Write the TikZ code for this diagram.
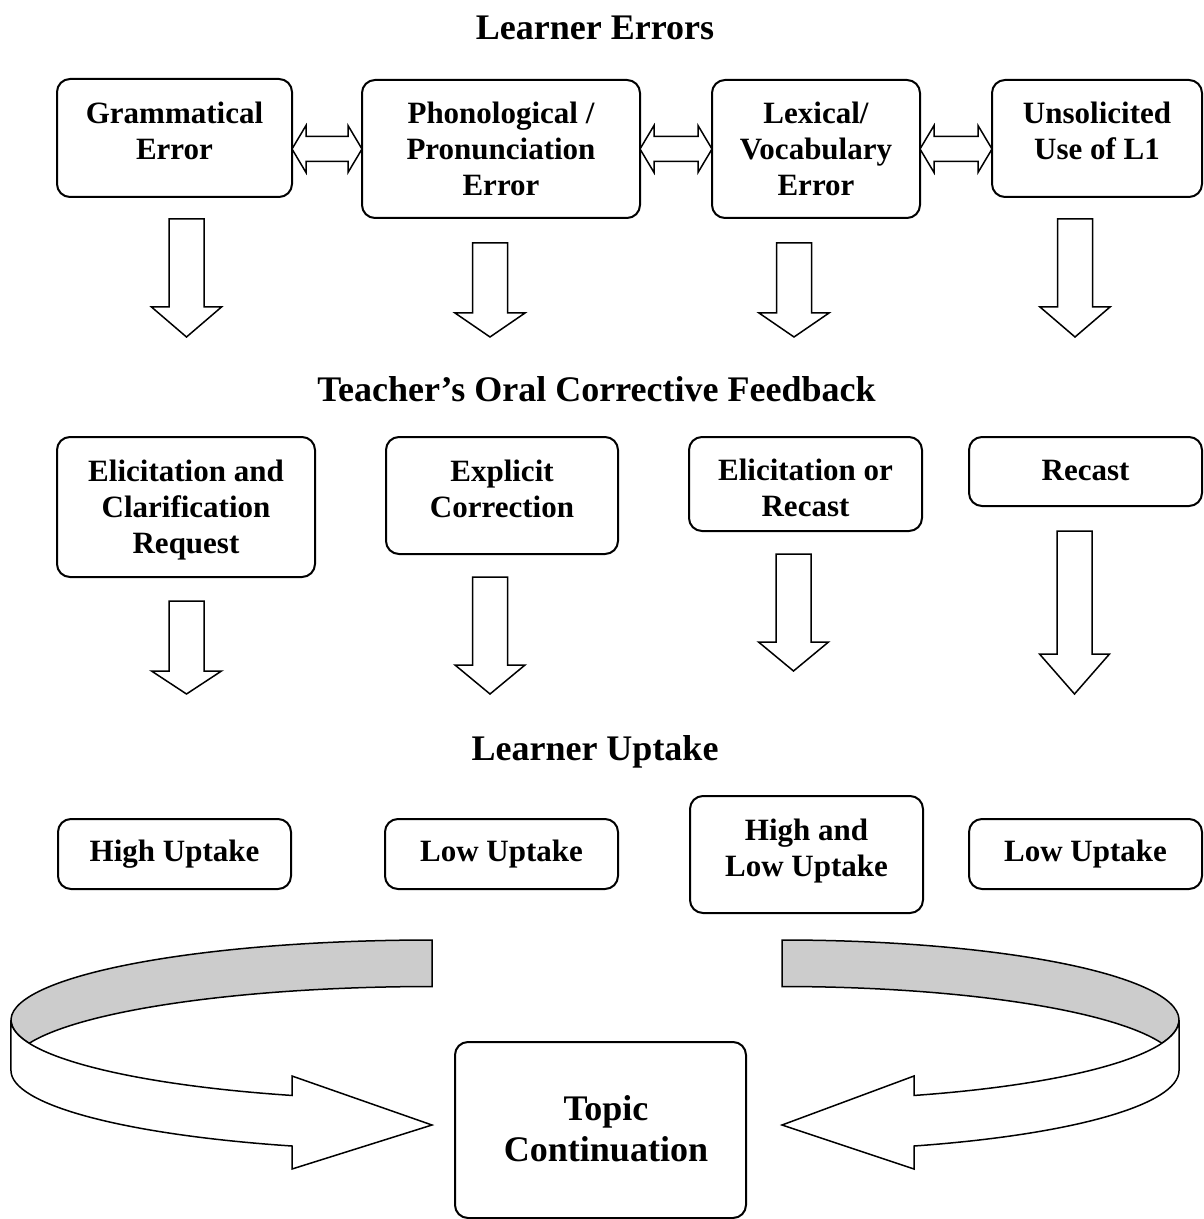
\documentclass[tikz,border=0pt]{standalone}
\usepackage{fontspec}
\setmainfont{Liberation Serif}
\usetikzlibrary{fit}
\newcommand\fstrut{\rule{0pt}{11pt}}
\newcommand\tstrut{\rule{0pt}{13pt}}
\newcommand\downblk[4]{%
  \draw[blk] (#1-17.5,-#2) -- (#1+17.5,-#2) -- (#1+17.5,-#3) -- (#1+35,-#3) -- (#1,-#4) -- (#1-35,-#3) -- (#1-17.5,-#3) -- cycle;}
\newcommand\hdbl[3]{%
  \draw[blk] (#1,-#3) -- (#1+14,-#3+23.5) -- (#1+14,-#3+12.5) -- (#2-14,-#3+12.5) -- (#2-14,-#3+23.5) -- (#2,-#3) -- (#2-14,-#3-23.5) -- (#2-14,-#3-12.5) -- (#1+14,-#3-12.5) -- (#1+14,-#3-23.5) -- cycle;}
\begin{document}
\begin{tikzpicture}[x=0.5pt,y=0.5pt,
  box/.style={draw, line width=1pt, rounded corners=6.5pt, inner sep=0pt},
  txt/.style={font=\fontsize{15.5}{18}\selectfont\bfseries, align=center, inner sep=0pt, anchor=north},
  ttl/.style={font=\fontsize{18}{21}\selectfont\bfseries, inner sep=0pt, anchor=base},
  blk/.style={draw, line width=0.75pt, fill=white, line join=miter}]
\useasboundingbox (0,0) rectangle (1203,-1219);

% titles
\node[ttl] (t1) at (595,-40) {Learner Errors};
\node[ttl] (t2) at (596.5,-401) {Teacher’s Oral Corrective Feedback};
\node[ttl] (t3) at (595,-760) {Learner Uptake};

% row 1
\node[box, fit={(57,-79) (292,-197)}] (g) {};
\node[box, fit={(362,-80) (640,-218)}] (p) {};
\node[box, fit={(712,-80) (920,-218)}] (l) {};
\node[box, fit={(992,-80) (1202,-197)}] (u) {};
\node[txt] (gt) at (174.5,-101) {\fstrut Grammatical\\Error};
\node[txt] (pt) at (501,-101) {\fstrut Phonological /\\Pronunciation\\Error};
\node[txt] (lt) at (816,-101) {\fstrut Lexical/\\Vocabulary\\Error};
\node[txt] (ut) at (1097,-101) {\fstrut Unsolicited\\Use of L1};

\hdbl{292}{362}{149}
\hdbl{640}{712}{149}
\hdbl{920}{992}{149}

\downblk{186.5}{219}{307}{337}
\downblk{490}{243}{313}{337}
\downblk{794}{243}{313}{337}
\downblk{1075}{219}{307}{337}

% row 2
\node[box, fit={(57,-437) (315,-577)}] (ec) {};
\node[box, fit={(386,-437) (618,-554)}] (ex) {};
\node[box, fit={(689,-437) (922,-531)}] (eo) {};
\node[box, fit={(969,-437) (1202,-506)}] (rc) {};
\node[txt] (ect) at (186,-459) {\fstrut Elicitation and\\Clarification\\Request};
\node[txt] (ext) at (502,-459) {\fstrut Explicit\\Correction};
\node[txt] (eot) at (805.5,-458) {\fstrut Elicitation or\\Recast};
\node[txt] (rct) at (1085.5,-458) {\fstrut Recast};

\downblk{186.5}{601}{671}{694}
\downblk{490}{577}{665}{694}
\downblk{793.5}{554}{642}{671}
\downblk{1074.5}{531}{654}{694}

% row 3
\node[box, fit={(58,-819) (291,-889)}] (hu) {};
\node[box, fit={(385,-819) (618,-889)}] (lu) {};
\node[box, fit={(690,-796) (923,-913)}] (hl) {};
\node[box, fit={(969,-819) (1202,-889)}] (lv) {};
\node[txt] (hut) at (174.5,-839) {\fstrut High Uptake};
\node[txt] (lut) at (501.5,-839) {\fstrut Low Uptake};
\node[txt] (hlt) at (806.5,-818) {\fstrut High and\\Low Uptake};
\node[txt] (lvt) at (1085.5,-839) {\fstrut Low Uptake};

% topic continuation
\node[box, fit={(455,-1042) (746,-1218)}] (tc) {};
\node[font=\fontsize{18}{20.5}\selectfont\bfseries, align=center, inner sep=0pt, anchor=north] (tct) at (606,-1094) {\tstrut Topic\\Continuation};

% left curved arrow
\draw[blk, fill=gray!40] (432,-940) arc[start angle=90, end angle=196.9, x radius=210.5pt, y radius=40pt]
  arc[start angle=163.1, end angle=90, x radius=210.5pt, y radius=40pt] -- cycle;
\draw[blk] (11,-1020) arc[start angle=180, end angle=250.58, x radius=210.5pt, y radius=40pt]
  -- (292,-1076) -- (432,-1125) -- (292,-1169) -- (292,-1146)
  arc[start angle=250.58, end angle=180, x radius=210.5pt, y radius=40pt] -- cycle;

% right curved arrow
\draw[blk, fill=gray!40] (782,-940) arc[start angle=90, end angle=-16.9, x radius=198.5pt, y radius=40pt]
  arc[start angle=16.9, end angle=90, x radius=198.5pt, y radius=40pt] -- cycle;
\draw[blk] (1179,-1020) arc[start angle=0, end angle=-70.58, x radius=198.5pt, y radius=40pt]
  -- (914,-1076) -- (782,-1125) -- (914,-1169) -- (914,-1146)
  arc[start angle=-70.58, end angle=0, x radius=198.5pt, y radius=40pt] -- cycle;
\end{tikzpicture}
\end{document}
